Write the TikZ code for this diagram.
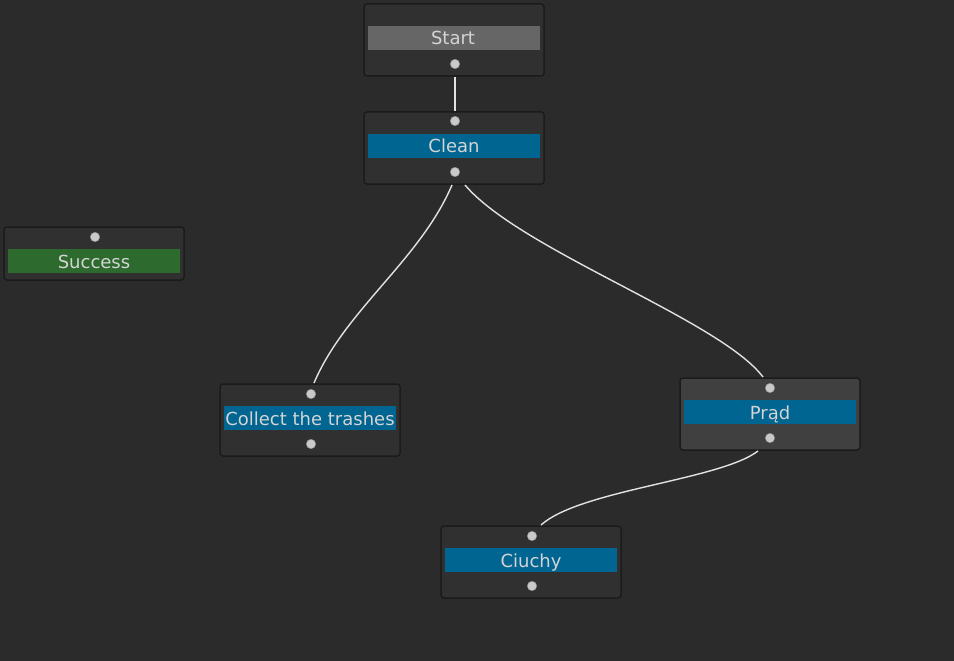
\documentclass[tikz,border=0pt]{standalone}
\usepackage{fontspec}
\setmainfont{DejaVu Sans}
\definecolor{bg}{HTML}{2B2B2B}
\definecolor{nodefill}{HTML}{303030}
\definecolor{nodesel}{HTML}{404040}
\definecolor{nodeedge}{HTML}{1B1B1B}
\definecolor{bargrey}{HTML}{666666}
\definecolor{barblue}{HTML}{006591}
\definecolor{bargreen}{HTML}{2D6A2E}
\definecolor{txt}{HTML}{D4D4D4}
\definecolor{port}{HTML}{C9C9C9}
\definecolor{wire}{HTML}{E2E2E2}
\begin{document}
\begin{tikzpicture}[x=1pt,y=-1pt,
  nodebox/.style={draw=nodeedge,line width=1.5pt,fill=nodefill,rounded corners=3pt,minimum width=180pt,minimum height=72pt,inner sep=0pt},
  smallbox/.style={nodebox,minimum height=53pt},
  selbox/.style={nodebox,fill=nodesel},
  bar/.style={minimum width=172pt,minimum height=24pt,inner sep=0pt},
  bartext/.style={inner sep=0pt,text=txt,font=\fontsize{18}{20}\selectfont,anchor=base},
  portdot/.style={circle,fill=port,draw=port!70!black,line width=0.4pt,minimum size=9.5pt,inner sep=0pt},
  wire/.style={draw=wire,line width=1.4pt}]
\fill[bg] (0,0) rectangle (954,661);
\useasboundingbox (0,0) rectangle (954,661);
% boxes
\node[nodebox] (startbox) at (454,40) {};
\node[nodebox] (cleanbox) at (454,148) {};
\node[smallbox] (successbox) at (94,253.5) {};
\node[nodebox] (collectbox) at (310,420) {};
\node[selbox] (pradbox) at (770,414) {};
\node[nodebox] (ciuchybox) at (531,562) {};
% bars
\node[bar,fill=bargrey] (startbar) at (454,38) {};
\node[bar,fill=barblue] (cleanbar) at (454,146) {};
\node[bar,fill=bargreen] (successbar) at (94,261) {};
\node[bar,fill=barblue] (collectbar) at (310,418) {};
\node[bar,fill=barblue] (pradbar) at (770,412) {};
\node[bar,fill=barblue] (ciuchybar) at (531,560) {};
% labels
\node[bartext] (starttext) at (453,45) {Start};
\node[bartext] (cleantext) at (454,153) {Clean};
\node[bartext] (successtext) at (94,268) {Success};
\node[bartext] (collecttext) at (310,425) {Collect the trashes};
\node[bartext] (pradtext) at (770,419) {Prąd};
\node[bartext] (ciuchytext) at (531,567) {Ciuchy};
% ports
\node[portdot] (startout) at (455,64) {};
\node[portdot] (cleanin) at (455,121) {};
\node[portdot] (cleanout) at (455,172) {};
\node[portdot] (successin) at (95,237) {};
\node[portdot] (collectin) at (311,394) {};
\node[portdot] (collectout) at (311,444) {};
\node[portdot] (pradin) at (770,388) {};
\node[portdot] (pradout) at (770,438) {};
\node[portdot] (ciuchyin) at (532,536) {};
\node[portdot] (ciuchyout) at (532,586) {};
% wire ends
\coordinate (w1a) at (455,77);
\coordinate (w1b) at (455,111);
\coordinate (w2a) at (452,185);
\coordinate (w2b) at (314,383);
\coordinate (w3a) at (465,185);
\coordinate (w3b) at (763,377);
\coordinate (w4a) at (758,451);
\coordinate (w4b) at (541,525);
% wires
\draw[wire] (w1a) -- (w1b);
\draw[wire] (w2a) .. controls (420,260) and (345,310) .. (w2b);
\draw[wire] (w3a) .. controls (520,250) and (720,320) .. (w3b);
\draw[wire] (w4a) .. controls (720,480) and (580,490) .. (w4b);
\end{tikzpicture}
\end{document}
